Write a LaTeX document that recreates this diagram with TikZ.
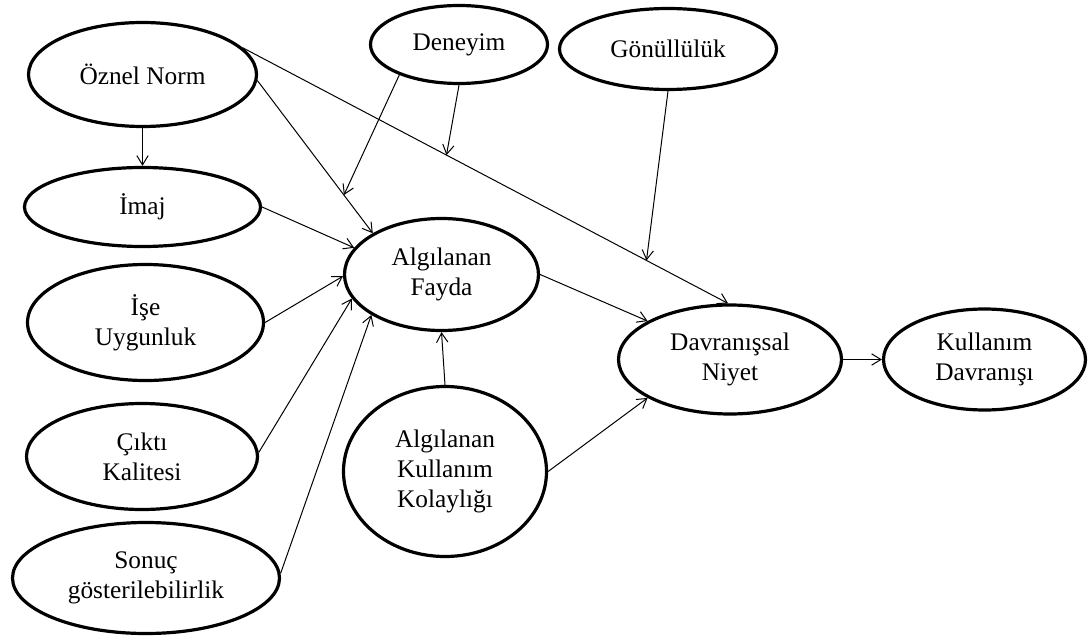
\documentclass[tikz,border=0pt]{standalone}
\usepackage{fontspec}
\setmainfont{Liberation Serif}
\usetikzlibrary{shapes.geometric,arrows.meta}

\begin{document}
\begin{tikzpicture}[x=0.75pt,y=-0.75pt,
  construct/.style={ellipse, draw, line width=2.4pt, inner sep=0pt, align=center,
    font=\fontsize{19}{22.5}\selectfont},
  arr/.style={-{Straight Barb[length=7pt,width=8.5pt]}, line width=0.75pt}]
\useasboundingbox (0,0) rectangle (1091,638);

% constructs
\node[construct, minimum width=171pt,    minimum height=78pt]    (ON)  at (142.5,74.5) {Öznel Norm};
\node[construct, minimum width=132.75pt, minimum height=58.5pt]  (DE)  at (459,44.5)   {Deneyim};
\node[construct, minimum width=162.75pt, minimum height=60.75pt] (GO)  at (668,49)     {Gönüllülük};
\node[construct, minimum width=177pt,    minimum height=59.25pt] (IM)  at (142.5,207)  {İmaj};
\node[construct, minimum width=145.5pt,  minimum height=84pt]    (AF)  at (441.5,274.5){Algılanan\\Fayda};
\node[construct, minimum width=177pt,    minimum height=87pt]    (IU)  at (145.5,322.5){İşe\\Uygunluk};
\node[construct, minimum width=173.25pt, minimum height=79.5pt]  (CK)  at (142,456.5)  {Çıktı\\Kalitesi};
\node[construct, minimum width=200.25pt, minimum height=83.25pt] (SG)  at (146,578)    {Sonuç\\gösterilebilirlik};
\node[construct, minimum width=152.25pt, minimum height=127.5pt] (AKK) at (445,471.5)  {Algılanan\\Kullanım\\Kolaylığı};
\node[construct, minimum width=167.25pt, minimum height=81.75pt] (DN)  at (730,359.5)  {Davranışsal\\Niyet};
\node[construct, minimum width=151.5pt,  minimum height=75.75pt] (KD)  at (984.5,359.5){Kullanım\\Davranışı};

% direct paths
\draw[arr] (ON.south) -- (IM.north);
\draw[arr] (ON.-3) -- (AF.149) coordinate[pos=0.75] (m1);
\draw[arr] (ON.15) -- (DN.92) coordinate[pos=0.42] (m2) coordinate[pos=0.832] (m3);
\draw[arr] (IM.east) -- (AF.163);
\draw[arr] (IU.east) -- (AF.181);
\draw[arr] (CK.2) -- (AF.195);
\draw[arr] (SG.2.5) -- (AF.210);
\draw[arr] (AKK.north) -- (AF.south);
\draw[arr] (AF.east) -- (DN.155);
\draw[arr] (AKK.east) -- (DN.205);
\draw[arr] (DN.east) -- (KD.west);

% moderating effects
\draw[arr] (DE.207) -- (m1);
\draw[arr] (DE.south) -- (m2);
\draw[arr] (GO.south) -- (m3);
\end{tikzpicture}
\end{document}
